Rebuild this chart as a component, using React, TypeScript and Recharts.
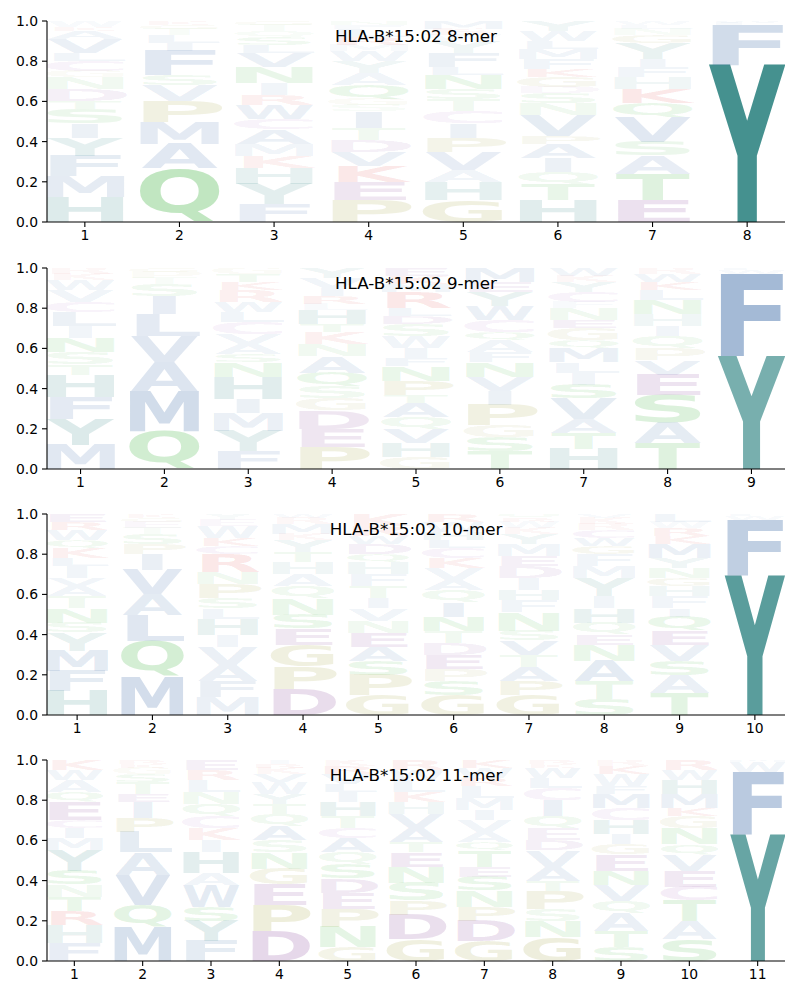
import React from "react";
import { BarChart, Bar, XAxis, YAxis } from "recharts";

type Col = Array<[string, number]>;

// Letter stacks, bottom to top, heights in percent
const MER8: Col[] = [
  [["H",12.5],["M",10.5],["F",10],["Y",9],["I",7],["S",7],["T",4],["D",6],["N",6],["G",3],["C",5],["L",4],["V",7],["A",4],["K",2],["W",3]],
  [["Q",27],["A",12],["M",11],["P",10],["V",8],["S",5],["F",12],["I",4],["L",4],["T",3],["G",2],["K",2]],
  [["F",9],["Y",10],["H",8],["K",6],["M",6],["A",7],["C",5],["W",7],["R",5],["I",6],["N",8],["V",7],["L",4],["S",4],["Q",3],["T",3],["G",2]],
  [["P",11],["E",9],["K",8],["V",7],["D",6],["T",6],["I",8],["S",3],["G",3],["Q",7],["A",6],["Y",6],["W",5],["M",3],["R",4],["L",4],["F",2],["N",2]],
  [["G",11],["H",9],["A",6],["V",9],["P",7],["I",7],["C",6],["T",6],["S",5],["N",7],["L",4],["F",7],["Y",6],["W",3],["R",2],["K",1],["M",4]],
  [["H",11],["T",8],["Q",6],["I",7],["A",7],["P",4],["V",10],["N",6],["S",5],["D",3],["G",5],["K",4],["F",5],["M",5],["L",4],["W",5],["Y",5]],
  [["E",11],["T",13],["A",9],["S",7],["V",12],["Q",7],["K",7],["H",6],["F",5],["I",4],["Y",8],["G",4],["N",3],["L",2],["W",2]],
  [["Y",78],["F",20],["L",1],["W",1]],
];

const MER9: Col[] = [
  [["M",12],["Y",13],["F",11],["H",11],["T",5],["S",6],["N",7],["I",6],["L",7],["C",5],["V",6],["W",5],["K",3],["R",3]],
  [["Q",19],["M",20],["A",14],["V",13],["L",11],["I",9],["S",6],["T",3],["P",3],["G",2]],
  [["F",9],["Y",10],["M",9],["I",7],["H",11],["N",7],["S",4],["A",5],["V",5],["C",6],["L",5],["W",5],["R",6],["K",4],["T",4],["G",3]],
  [["P",11],["E",9],["D",9],["G",6],["S",6],["Q",7],["A",8],["N",6],["K",6],["T",4],["H",7],["L",3],["R",4],["I",4],["V",5],["Y",5]],
  [["G",6],["H",7],["V",7],["Q",6],["A",7],["T",4],["P",7],["N",7],["F",4],["I",5],["W",6],["S",6],["D",4],["L",4],["R",8],["M",4],["K",4],["E",4]],
  [["T",9],["S",7],["G",6],["P",10],["I",7],["V",7],["N",7],["F",5],["A",6],["Q",4],["C",6],["W",7],["Y",7],["E",5],["M",7]],
  [["H",10],["T",8],["A",7],["V",10],["S",7],["I",6],["L",5],["M",7],["Q",4],["G",6],["E",4],["N",6],["F",3],["C",5],["Y",5],["K",3],["W",4]],
  [["T",13],["A",10],["S",14],["E",10],["V",7],["P",6],["Q",6],["I",5],["H",6],["N",7],["L",5],["K",4],["W",4],["R",3]],
  [["Y",56],["F",41],["W",2],["L",1]],
];

const MER10: Col[] = [
  [["H",12],["F",10],["M",10],["Y",9],["S",5],["N",7],["T",6],["A",5],["V",4],["I",6],["L",4],["K",5],["Q",4],["W",5],["R",4],["E",4]],
  [["M",19],["Q",18],["L",13],["A",10],["V",12],["I",8],["P",5],["S",5],["T",3],["E",3],["G",2],["K",2]],
  [["M",9],["F",8],["A",8],["V",9],["I",6],["H",8],["L",5],["S",5],["P",7],["N",6],["R",9],["C",4],["K",4],["W",6],["E",3],["Y",3]],
  [["D",13],["P",11],["G",11],["E",8],["S",7],["N",8],["Q",6],["A",6],["H",6],["T",5],["Y",6],["K",3],["M",5],["R",3],["W",2]],
  [["G",10],["P",10],["S",7],["A",7],["E",7],["N",6],["V",6],["I",5],["T",6],["F",6],["H",6],["Q",4],["D",5],["W",4],["R",5],["K",6]],
  [["G",10],["S",7],["P",6],["E",7],["D",6],["T",6],["N",7],["I",7],["Q",6],["A",5],["V",6],["K",5],["C",5],["L",4],["H",4],["W",5],["R",4]],
  [["G",10],["P",7],["A",7],["T",6],["V",7],["S",5],["N",9],["F",6],["H",5],["I",6],["D",6],["E",5],["M",6],["Y",5],["K",3],["W",3],["R",2],["Q",2]],
  [["S",8],["T",9],["A",10],["N",8],["E",5],["Q",6],["H",7],["I",6],["Y",9],["M",6],["F",6],["G",4],["W",4],["C",4],["R",3],["K",3],["V",2]],
  [["T",11],["A",9],["S",7],["V",8],["E",7],["Q",7],["I",4],["F",6],["H",5],["G",4],["N",5],["Y",5],["M",7],["K",4],["R",4],["W",3],["L",4]],
  [["Y",69],["F",28],["W",2],["L",1]],
];

const MER11: Col[] = [
  [["F",9],["H",9],["R",7],["T",7],["N",6],["S",7],["Y",10],["M",6],["I",5],["C",4],["E",9],["Q",5],["A",6],["W",5],["K",5]],
  [["M",17],["Q",11],["V",15],["A",11],["L",10],["P",7],["I",8],["E",4],["T",6],["S",4],["G",3],["K",2],["R",2]],
  [["F",10],["Y",10],["S",7],["W",11],["A",6],["H",10],["I",6],["K",6],["C",6],["Q",6],["N",6],["L",6],["R",5],["E",5]],
  [["D",15],["P",13],["E",10],["G",8],["N",8],["S",6],["A",7],["Q",6],["T",5],["Y",5],["W",6],["V",4],["K",3],["R",2],["I",2]],
  [["G",7],["N",10],["P",9],["E",8],["D",7],["S",7],["Q",6],["A",7],["C",5],["T",6],["H",7],["I",5],["L",4],["V",5],["R",4],["K",3]],
  [["G",11],["D",12],["P",7],["S",9],["N",8],["E",7],["T",5],["A",7],["V",7],["H",6],["K",5],["L",6],["W",5],["R",5]],
  [["G",10],["D",10],["P",7],["N",8],["S",7],["E",5],["T",8],["Q",4],["A",5],["V",6],["I",5],["M",6],["L",6],["R",4],["W",5],["K",4]],
  [["G",12],["N",8],["S",6],["P",9],["T",5],["A",7],["V",8],["D",5],["E",6],["Q",6],["I",8],["C",6],["L",5],["W",5],["K",2],["R",2]],
  [["S",7],["T",8],["A",9],["Q",6],["V",8],["N",7],["E",8],["G",5],["I",5],["H",7],["C",6],["M",7],["F",4],["W",6],["K",4],["R",3]],
  [["S",11],["A",9],["T",10],["C",7],["E",8],["V",8],["Q",5],["N",8],["G",6],["K",4],["M",7],["H",7],["W",5],["R",5]],
  [["Y",63],["F",31],["W",5],["M",1]],
];

const TITLES = ["HLA-B*15:02 8-mer", "HLA-B*15:02 9-mer", "HLA-B*15:02 10-mer", "HLA-B*15:02 11-mer"];
const PANELS = [MER8, MER9, MER10, MER11];
const Y_TICKS = [0, 0.2, 0.4, 0.6, 0.8, 1.0];
const PLOT_TOPS = [21, 267.5, 514, 760];

const BLUE = "#2d5fa0", TEAL = "#167573", GREEN = "#28aa28", PURPLE = "#6a1a80", RED = "#d81010", OLIVE = "#8a8a10", PINK = "#9a40b0";
const COLORS: Record<string, string> = {
  A: BLUE, V: BLUE, L: BLUE, I: BLUE, M: BLUE, F: BLUE, W: BLUE,
  Y: TEAL, H: TEAL,
  S: GREEN, T: GREEN, N: GREEN, Q: GREEN,
  D: PURPLE, E: PURPLE,
  K: RED, R: RED,
  P: OLIVE, G: OLIVE,
  C: PINK,
};

// ink width, ink bottom, ink top (em) for DejaVu Sans Bold
const INK: Record<string, [number, number, number]> = {
  A: [0.77, 0, 0.729], C: [0.6, -0.014, 0.743], D: [0.66, 0, 0.729], E: [0.55, 0, 0.729],
  F: [0.52, 0, 0.729], G: [0.67, -0.014, 0.743], H: [0.65, 0, 0.729], I: [0.2, 0, 0.729],
  K: [0.74, 0, 0.729], L: [0.53, 0, 0.729], M: [0.79, 0, 0.729], N: [0.65, 0, 0.729],
  P: [0.58, 0, 0.729], Q: [0.72, -0.17, 0.743], R: [0.69, 0, 0.729], S: [0.59, -0.014, 0.743],
  T: [0.7, 0, 0.729], V: [0.77, 0, 0.729], W: [1.02, 0, 0.729], Y: [0.74, 0, 0.729],
};

const FONT = "DejaVu Sans";

function buildRows(cols: Col[]) {
  const levels = Math.max(...cols.map((c) => c.length));
  const rows = cols.map((col, i) => {
    const row: Record<string, number | string> = { pos: i + 1 };
    for (let k = 0; k < levels; k++) {
      row["h" + k] = col[k] ? col[k][1] / 100 : 0;
      row["c" + k] = col[k] ? col[k][0] : "";
    }
    return row;
  });
  return { rows, levels };
}

function Glyph(props: any) {
  const { x, y, width, height, payload, level } = props;
  const c = payload ? payload["c" + level] : "";
  const v = payload ? payload["h" + level] : 0;
  if (!c || !height || height <= 0.2 || !width) return null;
  const [iw, b, t] = INK[c];
  const F = 100;
  const sx = width / (Math.max(iw, 0.55) * F);
  const sy = height / ((t - b) * F);
  const cx = x + width / 2;
  const base = y + height + b * F * sy;
  return (
    <text
      transform={`translate(${cx},${base}) scale(${sx},${sy})`}
      x={0}
      y={0}
      textAnchor="middle"
      fontFamily={FONT}
      fontWeight="bold"
      fontSize={F}
      fill={COLORS[c]}
      fillOpacity={Math.min(1, v + 0.02)}
    >
      {c}
    </text>
  );
}

function Panel({ cols, title, top }: { cols: Col[]; title: string; top: number }) {
  const { rows, levels } = buildRows(cols);
  const n = cols.length;
  const xticks = cols.map((_, i) => i + 1);
  const tickStyle = { fill: "#000", fontSize: 13.9, fontFamily: FONT };
  return (
    <div style={{ position: "absolute", left: 0, top: top - 10, width: 800, height: 246 }}>
      <BarChart
        width={800}
        height={246}
        data={rows}
        margin={{ top: 10, right: 15, bottom: 5, left: 0 }}
        barCategoryGap="10%"
        barGap={0}
      >
        <XAxis
          type="number"
          dataKey="pos"
          domain={[0.6, n + 0.4]}
          ticks={xticks}
          allowDataOverflow
          interval={0}
          height={30}
          tickSize={5}
          tickMargin={3}
          stroke="#000"
          axisLine={{ stroke: "#000", strokeWidth: 1.1 }}
          tickLine={{ stroke: "#000", strokeWidth: 1.1 }}
          tick={tickStyle}
        />
        <YAxis
          type="number"
          domain={[0, 1]}
          ticks={Y_TICKS}
          allowDataOverflow
          interval={0}
          width={47}
          tickSize={5}
          tickMargin={4}
          tickFormatter={(v: number) => v.toFixed(1)}
          axisLine={{ stroke: "#000", strokeWidth: 1.1 }}
          tickLine={{ stroke: "#000", strokeWidth: 1.1 }}
          tick={tickStyle}
        />
        {Array.from({ length: levels }, (_, k) => (
          <Bar
            key={k}
            dataKey={"h" + k}
            stackId="s"
            isAnimationActive={false}
            shape={(p: any) => <Glyph {...p} level={k} />}
          />
        ))}
      </BarChart>
      <div
        style={{
          position: "absolute",
          left: 216,
          width: 400,
          top: 15,
          textAlign: "center",
          fontFamily: FONT,
          fontSize: 16.7,
          lineHeight: "20px",
          color: "#000",
        }}
      >
        {title}
      </div>
    </div>
  );
}

export default function App() {
  return (
    <div style={{ position: "absolute", left: 0, top: 0, width: 800, height: 1000, background: "#fff" }}>
      {PANELS.map((cols, i) => (
        <Panel key={i} cols={cols} title={TITLES[i]} top={PLOT_TOPS[i]} />
      ))}
    </div>
  );
}
